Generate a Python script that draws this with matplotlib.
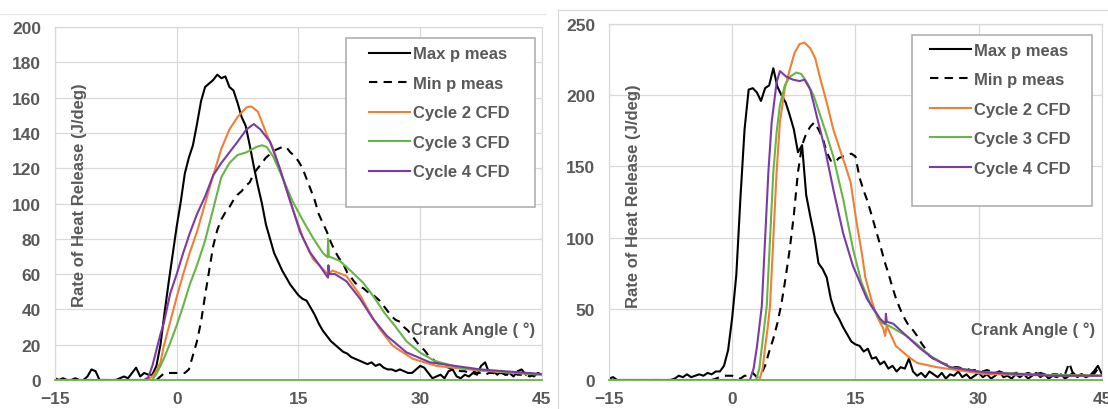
import numpy as np
import matplotlib
matplotlib.use('Agg')
import matplotlib.pyplot as plt
from matplotlib.patches import Rectangle
from matplotlib.lines import Line2D

plt.rcParams['font.family'] = ['Liberation Sans', 'DejaVu Sans']

TEXT = '#595959'
GRID = '#d9d9d9'
ORANGE = '#F07F35'
GREEN = '#66B547'
PURPLE = '#7A3BA6'

# measured traces, sampled every 0.5 deg from -15 to 45
angle_meas = np.arange(-15, 45.01, 0.5)

left_max_p = [
    1, 0, 1, 0, 0, 1, 0, 0, 2, 6,
    5, 0, 0, 0, 0, 0, 1, 2, 1, 4,
    7, 2, 4, 3, 3, 8, 20, 38, 55, 71,
    87, 101, 117, 126, 133, 145, 158, 166, 168, 170,
    173, 171, 172, 166, 164, 157, 149, 144, 133, 121,
    110, 100, 88, 80, 72, 67, 62, 58, 54, 51,
    48, 46, 45, 41, 37, 32, 28, 25, 22, 20,
    18, 16, 15, 13, 12, 11, 10, 9, 10, 8,
    9, 7, 6, 6, 5, 6, 5, 4, 4, 6,
    8, 7, 4, 1, 2, 3, 1, 5, 6, 2,
    1, 3, 2, 4, 3, 8, 10, 4, 5, 3,
    5, 3, 4, 2, 5, 6, 3, 4, 2, 4,
    3]
left_min_p = [
    0, 0, 0, 0, 0, 0, 0, 0, 0, 0,
    0, 0, 0, 0, 0, 0, 0, 0, 0, 0,
    0, 0, 0, 0, 0, 0, 2, 4, 4, 4,
    4, 4, 4, 6, 14, 22, 33, 48, 62, 76,
    85, 91, 95, 98, 102, 105, 107, 110, 112, 117,
    120, 123, 126, 128, 130, 131, 132, 132, 129, 127,
    124, 120, 114, 108, 102, 94, 89, 84, 78, 73,
    69, 66, 61, 58, 55, 53, 52, 50, 49, 47,
    45, 42, 39, 36, 34, 33, 30, 28, 25, 22,
    19, 17, 14, 12, 10, 9, 8, 7, 6, 6,
    5, 5, 4, 5, 4, 4, 3, 4, 4, 3,
    4, 3, 3, 4, 3, 3, 3, 2, 3, 3,
    3]

right_max_p = [
    1, 2, 0, 0, 0, 0, 0, 0, 0, 0,
    0, 0, 0, 0, 0, 0, 1, 3, 2, 4,
    2, 3, 4, 3, 5, 4, 6, 6, 10, 21,
    44, 74, 128, 176, 204, 205, 202, 196, 205, 207,
    219, 206, 200, 195, 186, 176, 160, 165, 130, 115,
    101, 82, 78, 72, 57, 48, 43, 37, 32, 27,
    25, 24, 20, 22, 15, 16, 11, 13, 8, 10,
    6, 9, 8, 15, 6, 3, 5, 2, 6, 4,
    2, 5, 1, 4, 3, 6, 2, 4, 1, 3,
    5, 2, 4, 1, 3, 6, 2, 3, 1, 4,
    2, 4, 1, 3, 5, 2, 4, 1, 3, 2,
    4, 1, 3, 5, 2, 4, 2, 3, 6, 10,
    4]
right_min_p = [
    0, 0, 0, 0, 0, 0, 0, 0, 0, 0,
    0, 0, 0, 0, 0, 0, 0, 0, 0, 0,
    0, 0, 0, 0, 0, 0, 1, 2, 3, 3,
    3, 2, 1, 3, 3, 5, 2, 4, 10, 20,
    29, 40, 54, 72, 92, 116, 146, 165, 173, 178,
    181, 176, 170, 160, 154, 153, 156, 157, 158, 159,
    157, 142, 133, 125, 115, 105, 95, 84, 75, 65,
    56, 49, 43, 38, 35, 31, 26, 22, 17, 15,
    14, 12, 11, 10, 9, 9, 8, 8, 7, 7,
    7, 6, 7, 6, 5, 6, 5, 5, 4, 5,
    5, 4, 5, 4, 4, 5, 4, 3, 4, 4,
    3, 4, 12, 4, 3, 4, 3, 5, 4, 8,
    6]

# CFD cycles (crank angle, heat release rate)
left_c2_angle = [-15, -4, -3.5, -3, -2.5, -2, -1.6, -0.8, 0, 0.8,
                 1.6, 2.5, 3.5, 4.5, 5.5, 6.5, 7.5, 8.6, 9.2, 10.0,
                 10.6, 11.1, 11.9, 13.1, 14.3, 15.6, 16.8, 18.4, 18.7, 19.2,
                 20.9, 22.6, 23.8, 25, 26.6, 29.1, 32, 37.4, 45]
left_c2_rate = [0, 0, 0.5, 2, 5, 10, 19, 33, 47, 60,
                72, 84, 100, 116, 131, 142, 149, 154.5, 155, 152,
                145, 139, 131, 114, 97, 80, 68.5, 61, 60, 62,
                59, 48, 38, 29, 19.5, 12, 8, 5.3, 3]

left_c3_angle = [-15, -3, -2.5, -2, -1.6, -0.8, 0, 0.8, 1.6, 2.5,
                 3.5, 4.5, 5.5, 6.5, 7.5, 8.6, 9.4, 9.8, 10.5, 11.1,
                 11.9, 13.1, 14.3, 15.6, 16.8, 18.0, 18.6, 18.65, 18.75, 20.1,
                 21.4, 23, 24.3, 25.6, 27, 28.3, 30, 31.7, 34.8, 39.1,
                 45]
left_c3_rate = [0, 0, 3.5, 8, 12, 21, 31, 42, 54, 65,
                79, 97, 115, 123, 127.5, 129, 131, 132, 133, 132,
                126.5, 114, 101, 90, 80.5, 72, 69.5, 80, 70, 67.5,
                62, 55, 47, 38, 30, 22, 15.5, 11, 7, 5,
                3]

left_c4_angle = [-15, -4, -3.5, -3, -2.5, -2, -1.6, -0.8, 0, 0.8,
                 1.6, 2.5, 3.5, 4.5, 5.5, 6.5, 7.5, 8.6, 9.5, 10.3,
                 11.5, 12.7, 14, 15.2, 16.4, 17.6, 18.4, 18.65, 18.7, 18.8,
                 19.5, 20.9, 22.6, 24.2, 25.9, 28.3, 31.2, 37.4, 45]
left_c4_rate = [0, 0, 1.5, 8, 17, 26, 32, 49, 60, 72,
                83, 94, 104, 116, 123, 129, 135, 142, 145, 142,
                135, 120, 101, 84, 72.5, 65, 59.5, 58, 65, 60,
                60, 56, 46, 34.5, 25, 15.7, 10, 6, 3.4]

right_c2_angle = [-15, 3.3, 3.7, 4.0, 4.3, 4.6, 5.0, 5.4, 5.8, 6.4,
                  7.0, 7.6, 8.2, 8.8, 9.5, 10.1, 10.7, 11.5, 12.3, 13.1,
                  13.8, 14.4, 15.1, 15.8, 16.2, 17.0, 17.6, 18.4, 18.6, 18.8,
                  19.9, 21.3, 22.5, 24.9, 27.3, 30.6, 36, 45]
right_c2_rate = [0, 0, 8, 23, 36, 52, 99, 146, 181, 205,
                 218, 230, 236, 237, 233, 226, 212, 195, 176, 162,
                 150, 139, 112, 88, 72, 55, 45, 36, 31, 38,
                 24, 17, 12, 9, 7, 4.3, 3.5, 3]

right_c3_angle = [-15, 2.9, 3.3, 3.6, 4.2, 4.6, 5.0, 5.4, 5.8, 6.4,
                  7.0, 7.8, 8.4, 9.1, 9.9, 10.7, 11.5, 12.3, 13.5, 14.7,
                  15.7, 16.9, 18.3, 19.1, 20.3, 21.2, 22.5, 24.1, 26.5, 30.6,
                  34.6, 38.7, 45]
right_c3_rate = [0, 0, 8, 23, 52, 99, 146, 174, 193, 207,
                 213, 216, 215, 209, 200, 186, 172, 157, 127, 92,
                 69, 52, 40, 38, 34, 31, 25, 17, 9, 5.5,
                 4.5, 3.5, 3]

right_c4_angle = [-15, 2.15, 2.6, 3.0, 3.6, 4.0, 4.4, 4.8, 5.4, 5.8,
                  6.6, 7.4, 8.2, 8.8, 9.5, 10.3, 11.3, 12.3, 13.5, 14.7,
                  16.4, 18.0, 18.65, 18.7, 18.8, 19.6, 21.2, 22.9, 24.5, 26.5,
                  30.6, 34.6, 38.7, 45]
right_c4_rate = [0, 0, 8, 23, 52, 99, 146, 181, 209, 217,
                 213, 211, 210, 211, 204, 185, 162, 134, 103, 80,
                 57, 43, 39.5, 46.5, 41, 39.5, 31, 22, 15, 9,
                 5.4, 4.3, 3, 3]

x_ticks = [-15, 0, 15, 30, 45]
left_y_ticks = [0, 20, 40, 60, 80, 100, 120, 140, 160, 180, 200]
right_y_ticks = [0, 50, 100, 150, 200, 250]


def draw_panel(ax, max_p, min_p, cycles, y_ticks, box, leg_anchor, ylab_xy):
    ax.plot(angle_meas, max_p, color='black', lw=1.5, label='Max p meas')
    ax.plot(angle_meas, min_p, color='black', lw=1.5, dashes=(4, 3),
            label='Min p meas')
    for name, color, (ang, rate) in zip(
            ['Cycle 2 CFD', 'Cycle 3 CFD', 'Cycle 4 CFD'],
            [ORANGE, GREEN, PURPLE], cycles):
        ax.plot(ang, rate, color=color, lw=1.5, label=name)

    ax.set_xlim(-15, 45)
    ax.set_ylim(y_ticks[0], y_ticks[-1])
    ax.set_xticks(x_ticks)
    ax.set_yticks(y_ticks)
    ax.grid(True, color=GRID, lw=0.9)
    ax.set_axisbelow(True)
    for side in ['top', 'left', 'right']:
        ax.spines[side].set_color(GRID)
        ax.spines[side].set_linewidth(0.9)
    ax.spines['bottom'].set_color(GREEN)
    ax.spines['bottom'].set_linewidth(1.3)
    ax.tick_params(length=0, labelsize=12.5, labelcolor=TEXT)
    ax.tick_params(axis='y', pad=10)
    ax.tick_params(axis='x', pad=8)
    for lab in ax.get_xticklabels() + ax.get_yticklabels():
        lab.set_fontweight('bold')

    ax.text(ylab_xy[0], ylab_xy[1], 'Rate of Heat Release (J/deg)',
            rotation=90, ha='center', va='center', transform=ax.transAxes,
            fontsize=12, fontweight='bold', color=TEXT)
    ax.text(0.986, 0.144, 'Crank Angle ( °)', ha='right', va='center',
            transform=ax.transAxes, fontsize=12, fontweight='bold', color=TEXT)

    ax.add_patch(Rectangle((box[0], box[1]), box[2], box[3],
                           transform=ax.transAxes, facecolor='white',
                           edgecolor='#a9a9a9', lw=1.1, zorder=5))
    leg = ax.legend(loc='upper left', bbox_to_anchor=leg_anchor,
                    frameon=False, borderaxespad=0, borderpad=0,
                    handlelength=2.45, handletextpad=0.2, labelspacing=0.87,
                    prop={'size': 12, 'weight': 'bold'})
    leg.set_zorder(6)
    for t in leg.get_texts():
        t.set_color(TEXT)


fig = plt.figure(figsize=(11.08, 4.10), dpi=100)
ax1 = fig.add_axes([0.0496, 0.0707, 0.4395, 0.861])
ax2 = fig.add_axes([0.5496, 0.0707, 0.4450, 0.868])

draw_panel(ax1, left_max_p, left_min_p,
           [(left_c2_angle, left_c2_rate), (left_c3_angle, left_c3_rate),
            (left_c4_angle, left_c4_rate)],
           left_y_ticks, (0.5975, 0.490, 0.388, 0.479), (0.645, 0.945),
           (0.051, 0.527))
draw_panel(ax2, right_max_p, right_min_p,
           [(right_c2_angle, right_c2_rate), (right_c3_angle, right_c3_rate),
            (right_c4_angle, right_c4_rate)],
           right_y_ticks, (0.6146, 0.4888, 0.365, 0.480), (0.651, 0.948),
           (0.0497, 0.52))

# thin frame lines around the two panels
fig.add_artist(Line2D([0, 0.492], [0.963, 0.963], color='#e4e4e4', lw=0.8))
fig.add_artist(Line2D([0.504, 0.504], [0, 0.972], color='#d6d6d6', lw=0.8))
fig.add_artist(Line2D([0.504, 1], [0.972, 0.972], color='#d6d6d6', lw=0.8))

fig.savefig('out.png', dpi=100, facecolor='white')
